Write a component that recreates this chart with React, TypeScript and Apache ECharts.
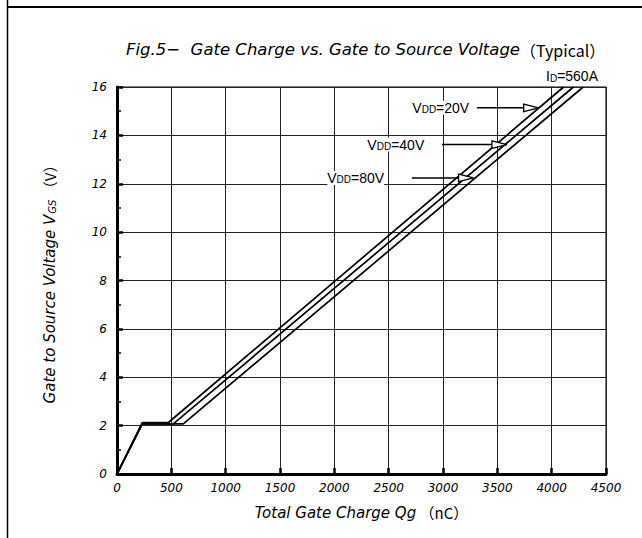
import React, { useEffect, useRef } from "react";
import * as echarts from "echarts";

// Curve data: total gate charge (nC) vs gate-source voltage (V)
const q20 = [0, 233, 473, 4110];
const v20 = [0, 2.13, 2.13, 16];
const q40 = [0, 233, 518, 4200];
const v40 = [0, 2.07, 2.07, 16];
const q80 = [0, 233, 610, 4290];
const v80 = [0, 2.07, 2.07, 16];

const seriesNames = ["VDD=20V", "VDD=40V", "VDD=80V"];
const vddLabels = ["20V", "40V", "80V"];

// Annotation arrows (data space)
const arrowV = [15.14, 13.62, 12.24];
const arrowStartQ = [3312, 2990, 2714];
const arrowTipQ = [3880, 3588, 3281];
const labelEndQ = [3232, 2818, 2449];

const xMin = 0;
const xMax = 4500;
const xStep = 500;
const yMin = 0;
const yMax = 16;
const yStep = 2;

const pairs = (q: number[], v: number[]) => q.map((x, i) => [x, v[i]]);

export default function App() {
  const ref = useRef<HTMLDivElement>(null);
  useEffect(() => {
    if (!ref.current) return;
    const chart = echarts.init(ref.current, undefined, { renderer: "svg" });
    const face = "DejaVu Sans";
    const cjk = "Noto Sans CJK JP";
    const ann = "Liberation Sans";
    const curves = [pairs(q20, v20), pairs(q40, v40), pairs(q80, v80)];
    chart.setOption({
      animation: false,
      backgroundColor: "#fff",
      title: {
        text: "{i|Fig.5−  Gate Charge vs. Gate to Source Voltage}{n|（Typical）}",
        left: 126,
        top: 41,
        padding: 0,
        textStyle: {
          fontWeight: "normal",
          color: "#000",
          rich: {
            i: { fontFamily: face, fontStyle: "italic", fontWeight: "normal", fontSize: 16.5, color: "#000" },
            n: { fontFamily: cjk, fontWeight: "normal", fontSize: 16, color: "#000" },
          },
        },
      },
      grid: {
        left: 117,
        top: 87,
        right: 36,
        bottom: 64,
        show: true,
        borderColor: "#000",
        borderWidth: 1,
        backgroundColor: "transparent",
      },
      xAxis: {
        type: "value",
        min: xMin,
        max: xMax,
        interval: xStep,
        name: "{i|Total Gate Charge Qg}{n| （nC）}",
        nameLocation: "middle",
        nameGap: 31,
        nameTextStyle: {
          color: "#000",
          rich: {
            i: { fontFamily: face, fontStyle: "italic", fontSize: 15, color: "#000" },
            n: { fontFamily: cjk, fontSize: 15, color: "#000" },
          },
        },
        axisLine: { show: true, onZero: false, lineStyle: { color: "#000", width: 3 } },
        axisTick: { show: true, inside: true, length: 6, lineStyle: { color: "#000", width: 2.5 } },
        axisLabel: {
          fontFamily: face,
          fontStyle: "italic",
          fontSize: 12,
          color: "#000",
          margin: 8,
          formatter: (v: number) => String(v),
        },
        splitLine: { show: true, lineStyle: { color: "#222", width: 1 } },
      },
      yAxis: {
        type: "value",
        min: yMin,
        max: yMax,
        interval: yStep,
        name: "{i|Gate to Source Voltage V}{s|GS}{n| （V）}",
        nameLocation: "middle",
        nameRotate: 90,
        nameGap: 60,
        nameTextStyle: {
          color: "#000",
          rich: {
            i: { fontFamily: face, fontStyle: "italic", fontSize: 15, color: "#000" },
            s: { fontFamily: face, fontStyle: "italic", fontSize: 10, color: "#000", padding: [5, 0, 0, 1] },
            n: { fontFamily: cjk, fontSize: 15, color: "#000" },
          },
        },
        axisLine: { show: true, onZero: false, lineStyle: { color: "#000", width: 3 } },
        axisTick: { show: true, inside: true, length: 6, lineStyle: { color: "#000", width: 2.5 } },
        minorTick: { show: true, splitNumber: 2, length: 4, lineStyle: { color: "#000", width: 1.5 } },
        axisLabel: {
          fontFamily: face,
          fontStyle: "italic",
          fontSize: 12,
          color: "#000",
          margin: 10,
          formatter: (v: number) => String(v),
        },
        splitLine: { show: true, lineStyle: { color: "#222", width: 1 } },
      },
      series: curves.map((d, i) => ({
        name: seriesNames[i],
        type: "line",
        data: d,
        showSymbol: false,
        symbol: "none",
        clip: true,
        lineStyle: { color: "#000", width: 1.7 },
        z: 3,
      })),
    });

    const graphics: any[] = [
      { type: "line", shape: { x1: 7.5, y1: 0, x2: 7.5, y2: 538 }, style: { stroke: "#000", lineWidth: 1.5 } },
      { type: "line", shape: { x1: 7, y1: 7, x2: 642, y2: 7 }, style: { stroke: "#000", lineWidth: 2 } },
      {
        type: "text",
        x: 598,
        y: 76,
        style: {
          text: "{a|I}{b|D}{a|=560A}",
          align: "right",
          verticalAlign: "middle",
          rich: {
            a: { fontFamily: ann, fontSize: 14, fill: "#000", verticalAlign: "bottom" },
            b: { fontFamily: ann, fontSize: 10, fill: "#000", verticalAlign: "bottom" },
          },
        },
      },
    ];
    for (let i = 0; i < arrowV.length; i++) {
      const s = chart.convertToPixel({ gridIndex: 0 }, [arrowStartQ[i], arrowV[i]]) as number[];
      const t = chart.convertToPixel({ gridIndex: 0 }, [arrowTipQ[i], arrowV[i]]) as number[];
      const l = chart.convertToPixel({ gridIndex: 0 }, [labelEndQ[i], arrowV[i]]) as number[];
      const y = s[1];
      const headLen = 15;
      graphics.push({
        type: "line",
        shape: { x1: s[0], y1: y, x2: t[0] - headLen, y2: y },
        style: { stroke: "#000", lineWidth: 1.5 },
        z: 10,
      });
      graphics.push({
        type: "polygon",
        shape: { points: [[t[0], y], [t[0] - headLen, y - 3.8], [t[0] - headLen, y + 3.8]] },
        style: { fill: "#fff", stroke: "#000", lineWidth: 1.3 },
        z: 11,
      });
      graphics.push({
        type: "text",
        x: l[0] + 1,
        y: y,
        z: 11,
        style: {
          text: "{a|V}{b|DD}{a|=" + vddLabels[i] + "}",
          align: "right",
          verticalAlign: "middle",
          backgroundColor: "#fff",
          rich: {
            a: { fontFamily: ann, fontSize: 14, fill: "#000", verticalAlign: "bottom" },
            b: { fontFamily: ann, fontSize: 10, fill: "#000", verticalAlign: "bottom" },
          },
        },
      });
    }
    chart.setOption({ graphic: graphics });

    return () => chart.dispose();
  }, []);
  return (
    <div
      ref={ref}
      style={{ position: "fixed", left: 0, top: 0, width: 642, height: 538, background: "#fff" }}
    />
  );
}
